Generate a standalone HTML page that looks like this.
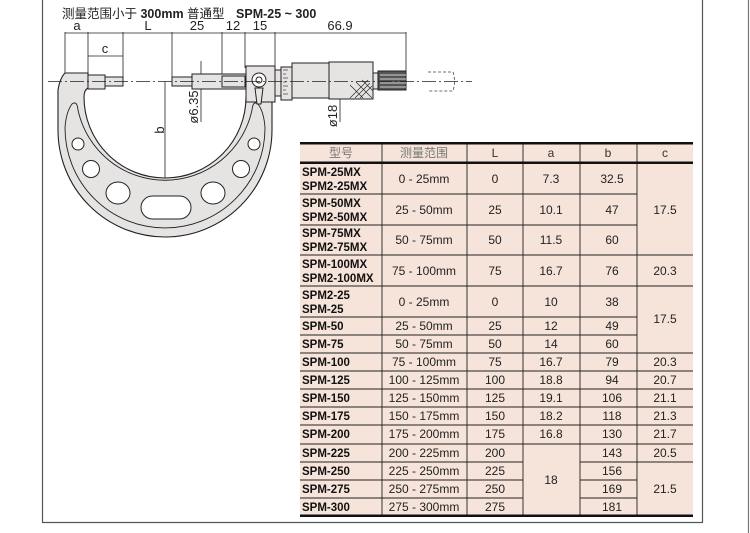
<!DOCTYPE html>
<html><head><meta charset="utf-8"><style>
html,body{margin:0;padding:0;background:#fff;}
svg{display:block;font-family:"Liberation Sans","Noto Sans CJK SC",sans-serif;}
</style></head><body>
<svg width="750" height="533" viewBox="0 0 750 533" xmlns="http://www.w3.org/2000/svg">
<line x1="42.5" y1="0" x2="42.5" y2="522" stroke="#555" stroke-width="1.2"/>
<line x1="42" y1="522.5" x2="702" y2="522.5" stroke="#555" stroke-width="1.2"/>
<line x1="702.5" y1="0" x2="702.5" y2="523" stroke="#555" stroke-width="1.2"/>
<line x1="748.5" y1="0" x2="748.5" y2="533" stroke="#777" stroke-width="1.2"/>

<text x="62" y="18" font-size="12.5" fill="#222">测量范围小于 <tspan font-weight="bold">300mm</tspan> 普通型 <tspan font-weight="bold" dx="8">SPM-25 ~ 300</tspan></text>

<g stroke="#222" stroke-width="0.8" fill="none">
<line x1="65" y1="33" x2="406" y2="33"/>
<line x1="65" y1="32" x2="65" y2="73"/>
<line x1="88" y1="32" x2="88" y2="73"/>
<line x1="123" y1="32" x2="123" y2="80"/>
<line x1="172" y1="32" x2="172" y2="80"/>
<line x1="222" y1="32" x2="222" y2="80"/>
<line x1="245" y1="32" x2="245" y2="68"/>
<line x1="275" y1="32" x2="275" y2="68"/>
<line x1="406" y1="32" x2="406" y2="72"/>
<line x1="88" y1="56" x2="123" y2="56"/>
<line x1="165" y1="82" x2="165" y2="178"/>
<line x1="201" y1="61" x2="201" y2="122"/>
<line x1="340" y1="62" x2="340" y2="122"/>
</g>
<g font-size="13" fill="#222" text-anchor="middle">
<text x="77" y="30">a</text>
<text x="148" y="30">L</text>
<text x="197" y="30">25</text>
<text x="233" y="30">12</text>
<text x="260" y="30">15</text>
<text x="340" y="30">66.9</text>
<text x="105" y="53">c</text>
<text transform="translate(164,130) rotate(-90)">b</text>
<text transform="translate(198,107) rotate(-90)">ø6.35</text>
<text transform="translate(337,116) rotate(-90)">ø18</text>
</g>

<!-- C frame -->
<path d="M65,73 L88,73 L88,88 Q84,90 84,97 A81,81 0 0 0 246,97 L246,100 L272,100 L272,130 A107,107 0 0 1 58,130 L58,90 Q60,78 65,73 Z" fill="#e6e3e3" stroke="#222" stroke-width="1.1"/>
<path d="M78,110 Q77,100 72,104 Q66,112 65,128 A100,100 0 0 0 265,128 Q264,112 258,104 Q253,100 252,110 A89,89 0 0 1 78,110 Z" fill="#e6e3e3" stroke="#222" stroke-width="0.9"/>
<g fill="#fff" stroke="#222" stroke-width="1">
<circle cx="78" cy="144" r="6"/>
<circle cx="91" cy="169" r="8.5"/>
<ellipse cx="118" cy="193" rx="12" ry="11"/>
<rect x="141" y="196" width="50" height="23" rx="11.5"/>
<ellipse cx="213" cy="193" rx="12" ry="11"/>
<circle cx="241" cy="169" r="8.5"/>
<circle cx="254" cy="144" r="6"/>
</g>

<g fill="#e6e3e3" stroke="#222" stroke-width="1">
<rect x="88" y="75" width="17" height="14"/>
<rect x="105" y="77" width="18" height="9"/>
<rect x="172" y="77" width="20" height="9"/>
<rect x="192" y="74" width="54" height="15"/>
<rect x="222" y="76" width="23" height="11"/>
<rect x="246" y="66" width="29" height="36"/>
<rect x="275" y="70" width="6" height="26"/>
<rect x="281" y="67" width="11" height="33"/>
<rect x="292" y="63" width="37" height="35"/>
<rect x="329" y="62" width="44" height="37"/>
<rect x="373" y="73" width="5" height="16"/>
<rect x="378" y="71" width="28" height="19" fill="#555"/>
<circle cx="259" cy="80" r="7" fill="#fff"/>
<circle cx="259" cy="80" r="3" fill="#fff"/>
<path d="M255,88 L263,88 L261,104 L257,104 Z"/>
</g>
<g stroke="#fff" stroke-width="0.8">
<line x1="380" y1="75" x2="406" y2="75"/><line x1="380" y1="79" x2="406" y2="79"/><line x1="380" y1="83" x2="406" y2="83"/><line x1="380" y1="87" x2="406" y2="87"/>
</g>
<g stroke="#222" stroke-width="0.6">
<path d="M355,98 L370,83 M350,98 L368,80 M360,98 L372,86 M350,85 L363,98 M356,82 L372,98 M362,80 L373,91"/>
<line x1="283" y1="70" x2="288" y2="70"/><line x1="283" y1="74" x2="286" y2="74"/><line x1="283" y1="78" x2="288" y2="78"/><line x1="283" y1="82" x2="286" y2="82"/><line x1="283" y1="86" x2="288" y2="86"/><line x1="283" y1="90" x2="286" y2="90"/><line x1="283" y1="94" x2="288" y2="94"/>
</g>
<path d="M428,72 L453,72 Q456,81 453,91 L428,91" fill="none" stroke="#444" stroke-width="0.8" stroke-dasharray="3,2"/>
<line x1="48" y1="81.5" x2="472" y2="81.5" stroke="#222" stroke-width="0.7" stroke-dasharray="14,3,2,3"/>

<rect x="300" y="143" width="393" height="373" fill="#f6e4da"/>
<g stroke="#222" stroke-width="0.9">
<line x1="382" y1="143" x2="382" y2="516"/>
<line x1="467" y1="143" x2="467" y2="516"/>
<line x1="523" y1="143" x2="523" y2="516"/>
<line x1="580" y1="143" x2="580" y2="516"/>
<line x1="637" y1="143" x2="637" y2="516"/>
<line x1="300" y1="194" x2="637" y2="194"/>
<line x1="300" y1="225" x2="637" y2="225"/>
<line x1="300" y1="255" x2="693" y2="255"/>
<line x1="300" y1="286" x2="693" y2="286"/>
<line x1="300" y1="317" x2="637" y2="317"/>
<line x1="300" y1="335" x2="637" y2="335"/>
<line x1="300" y1="353" x2="693" y2="353"/>
<line x1="300" y1="371" x2="693" y2="371"/>
<line x1="300" y1="389" x2="693" y2="389"/>
<line x1="300" y1="407" x2="693" y2="407"/>
<line x1="300" y1="425" x2="693" y2="425"/>
<line x1="300" y1="444" x2="693" y2="444"/>
<line x1="300" y1="462" x2="523" y2="462"/><line x1="580" y1="462" x2="693" y2="462"/>
<line x1="300" y1="480" x2="523" y2="480"/><line x1="580" y1="480" x2="637" y2="480"/>
<line x1="300" y1="498" x2="523" y2="498"/><line x1="580" y1="498" x2="637" y2="498"/>
</g>
<rect x="300" y="142" width="393" height="2.5" fill="#111"/>
<rect x="300" y="161.5" width="393" height="2.5" fill="#111"/>
<rect x="300" y="514.5" width="393" height="2.5" fill="#111"/>

<g font-size="12" fill="#333" text-anchor="middle">
<text x="341" y="157" fill="#777">型号</text>
<text x="424" y="157" fill="#777">测量范围</text>
<text x="495" y="157">L</text>
<text x="551" y="157">a</text>
<text x="608" y="157">b</text>
<text x="665" y="157">c</text>
</g>
<g font-size="11.5" font-weight="bold" fill="#111">
<text x="302" y="176">SPM-25MX</text><text x="302" y="190">SPM2-25MX</text>
<text x="302" y="207">SPM-50MX</text><text x="302" y="221">SPM2-50MX</text>
<text x="302" y="237">SPM-75MX</text><text x="302" y="251">SPM2-75MX</text>
<text x="302" y="268">SPM-100MX</text><text x="302" y="282">SPM2-100MX</text>
<text x="302" y="299">SPM2-25</text><text x="302" y="313">SPM-25</text>
<text x="302" y="330">SPM-50</text>
<text x="302" y="348">SPM-75</text>
<text x="302" y="366">SPM-100</text>
<text x="302" y="384">SPM-125</text>
<text x="302" y="402">SPM-150</text>
<text x="302" y="420">SPM-175</text>
<text x="302" y="438">SPM-200</text>
<text x="302" y="457">SPM-225</text>
<text x="302" y="475">SPM-250</text>
<text x="302" y="493">SPM-275</text>
<text x="302" y="511">SPM-300</text>
</g>
<g font-size="12" fill="#222" text-anchor="middle">
<text x="424" y="183">0 - 25mm</text><text x="495" y="183">0</text><text x="551" y="183">7.3</text><text x="612" y="183">32.5</text>
<text x="424" y="214">25 - 50mm</text><text x="495" y="214">25</text><text x="551" y="214">10.1</text><text x="612" y="214">47</text>
<text x="424" y="244">50 - 75mm</text><text x="495" y="244">50</text><text x="551" y="244">11.5</text><text x="612" y="244">60</text>
<text x="424" y="275">75 - 100mm</text><text x="495" y="275">75</text><text x="551" y="275">16.7</text><text x="612" y="275">76</text>
<text x="424" y="306">0 - 25mm</text><text x="495" y="306">0</text><text x="551" y="306">10</text><text x="612" y="306">38</text>
<text x="424" y="330">25 - 50mm</text><text x="495" y="330">25</text><text x="551" y="330">12</text><text x="612" y="330">49</text>
<text x="424" y="348">50 - 75mm</text><text x="495" y="348">50</text><text x="551" y="348">14</text><text x="612" y="348">60</text>
<text x="424" y="366">75 - 100mm</text><text x="495" y="366">75</text><text x="551" y="366">16.7</text><text x="612" y="366">79</text>
<text x="424" y="384">100 - 125mm</text><text x="495" y="384">100</text><text x="551" y="384">18.8</text><text x="612" y="384">94</text>
<text x="424" y="402">125 - 150mm</text><text x="495" y="402">125</text><text x="551" y="402">19.1</text><text x="612" y="402">106</text>
<text x="424" y="420">150 - 175mm</text><text x="495" y="420">150</text><text x="551" y="420">18.2</text><text x="612" y="420">118</text>
<text x="424" y="438">175 - 200mm</text><text x="495" y="438">175</text><text x="551" y="438">16.8</text><text x="612" y="438">130</text>
<text x="424" y="457">200 - 225mm</text><text x="495" y="457">200</text><text x="612" y="457">143</text>
<text x="424" y="475">225 - 250mm</text><text x="495" y="475">225</text><text x="612" y="475">156</text>
<text x="424" y="493">250 - 275mm</text><text x="495" y="493">250</text><text x="612" y="493">169</text>
<text x="424" y="511">275 - 300mm</text><text x="495" y="511">275</text><text x="612" y="511">181</text>
<text x="551" y="484">18</text>
<text x="665" y="214">17.5</text>
<text x="665" y="275">20.3</text>
<text x="665" y="323">17.5</text>
<text x="665" y="366">20.3</text>
<text x="665" y="384">20.7</text>
<text x="665" y="402">21.1</text>
<text x="665" y="420">21.3</text>
<text x="665" y="438">21.7</text>
<text x="665" y="457">20.5</text>
<text x="665" y="493">21.5</text>
</g>
</svg>
</body></html>
